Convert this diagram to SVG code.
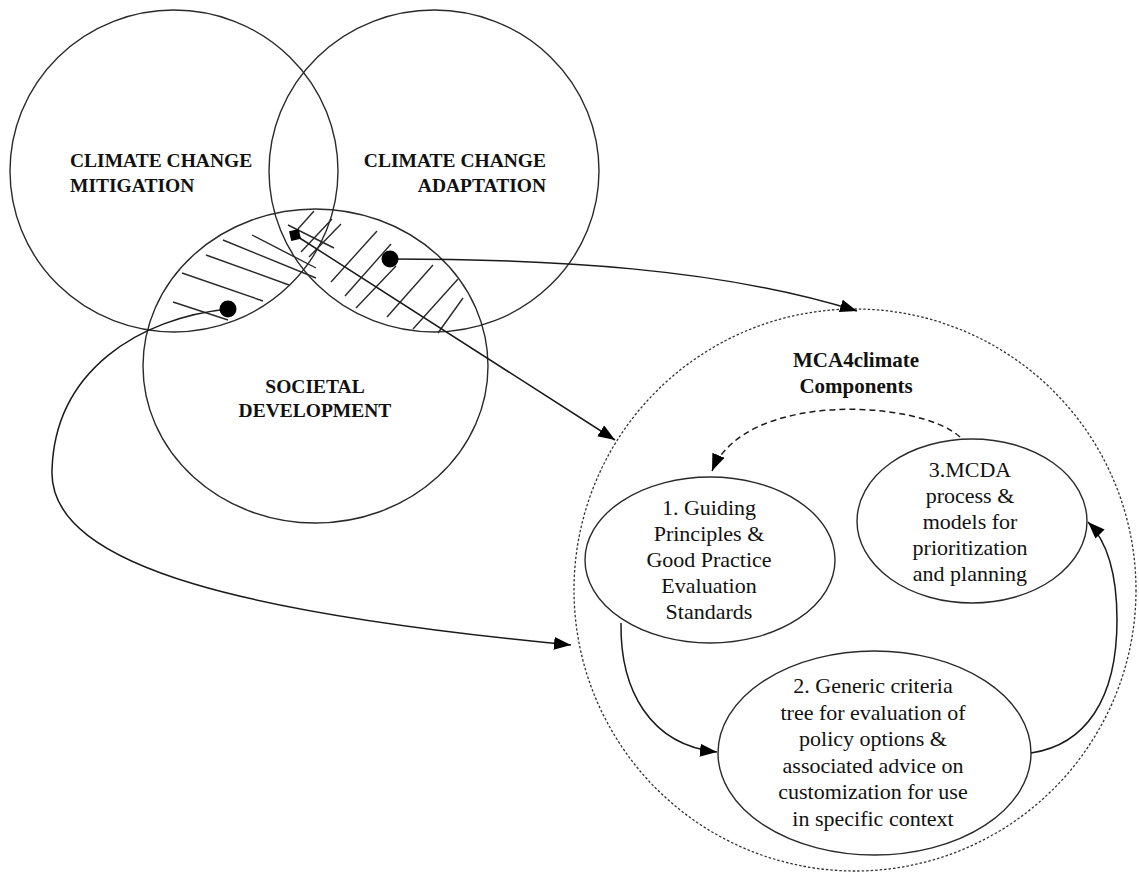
<svg xmlns="http://www.w3.org/2000/svg" width="1139" height="872" viewBox="0 0 1139 872">
<style>
.c{fill:none;stroke:#2a2a2a;stroke-width:1.4}
.h{stroke:#2a2a2a;stroke-width:1.4;fill:none}
.b{font-family:"Liberation Serif","Times New Roman",serif;font-weight:bold;fill:#111}
.t{font-family:"Liberation Serif","Times New Roman",serif;font-size:22px;fill:#111;text-anchor:middle}
.cn{fill:none;stroke:#1a1a1a;stroke-width:1.5}
</style>
<defs>
<marker id="arrow" viewBox="0 0 17 13" refX="17" refY="6.5" markerWidth="17" markerHeight="13" markerUnits="userSpaceOnUse" orient="auto"><path d="M0,0 L17,6.5 L0,13 z" fill="#000"/></marker>
<marker id="diamond" viewBox="-8 -8 16 16" refX="0" refY="0" markerWidth="16" markerHeight="16" markerUnits="userSpaceOnUse" orient="auto"><path d="M-7,0 L0,-7 L7,0 L0,7 z" fill="#000"/></marker>
<marker id="dot" viewBox="-9 -9 18 18" refX="0" refY="0" markerWidth="18" markerHeight="18" markerUnits="userSpaceOnUse"><circle r="8.5" fill="#000"/></marker>
</defs>
<rect width="1139" height="872" fill="#fff"/>

<g id="mitigation">
<ellipse class="c" cx="174" cy="171" rx="164" ry="161"/>
<text class="b" font-size="19.5" x="70" y="167">CLIMATE CHANGE</text>
<text class="b" font-size="19.5" x="70" y="192">MITIGATION</text>
</g>
<g id="adaptation">
<ellipse class="c" cx="434" cy="171" rx="165" ry="161"/>
<text class="b" font-size="19.5" x="546" y="167" text-anchor="end">CLIMATE CHANGE</text>
<text class="b" font-size="19.5" x="546" y="192" text-anchor="end">ADAPTATION</text>
</g>
<g id="societal">
<ellipse class="c" cx="315.5" cy="366" rx="172.5" ry="157"/>
<text class="b" font-size="19.5" x="315" y="393" text-anchor="middle">SOCIETAL</text>
<text class="b" font-size="19.5" x="315" y="417" text-anchor="middle">DEVELOPMENT</text>
</g>
<g id="hatching">
<path class="h" d="M252,235 L316,268 M223,240 L316,278 M206,255 L289,285 M182,273 L263,301 M173,302 L228,320 M288,225 L334,248"/>
<path class="h" d="M314,211 L298,229 M332,219 L301,252 M341,224 L309,257 M377,231 L331,282 M391,244 L345,296 M396,266 L356,308 M433,265 L387,317 M458,279 L413,329 M463,298 L438,333"/>
</g>

<g id="mca4climate">
<circle cx="855" cy="590" r="281" fill="none" stroke="#333" stroke-width="1.3" stroke-dasharray="2.5 2"/>
<text class="b" font-size="21" x="856" y="367" text-anchor="middle">MCA4climate</text>
<text class="b" font-size="21" x="856" y="393" text-anchor="middle">Components</text>
</g>
<g id="guiding">
<ellipse class="c" cx="710" cy="560" rx="125" ry="83"/>
<text class="t" x="709" y="515">1. Guiding</text>
<text class="t" x="709" y="541">Principles &amp;</text>
<text class="t" x="709" y="567">Good Practice</text>
<text class="t" x="709" y="593">Evaluation</text>
<text class="t" x="709" y="619">Standards</text>
</g>
<g id="mcda">
<ellipse class="c" cx="972" cy="521" rx="115" ry="82"/>
<text class="t" x="970" y="477">3.MCDA</text>
<text class="t" x="970" y="503">process &amp;</text>
<text class="t" x="970" y="529">models for</text>
<text class="t" x="970" y="555">prioritization</text>
<text class="t" x="970" y="581">and planning</text>
</g>
<g id="generic">
<ellipse class="c" cx="874.5" cy="753" rx="156.5" ry="102"/>
<text class="t" x="873" y="693">2. Generic criteria</text>
<text class="t" x="873" y="719.5">tree for evaluation  of</text>
<text class="t" x="873" y="746">policy options &amp;</text>
<text class="t" x="873" y="772.5">associated advice  on</text>
<text class="t" x="873" y="799">customization for use</text>
<text class="t" x="873" y="825.5">in specific context</text>
</g>

<g id="connectors">
<path class="cn" d="M295,235 L615,440" marker-start="url(#diamond)" marker-end="url(#arrow)"/>
<path class="cn" d="M390,259 C550,259 720,268 857,311" marker-start="url(#dot)" marker-end="url(#arrow)"/>
<path class="cn" d="M228,309 C140,318 55,370 52,470 C48,570 260,615 571,645" marker-start="url(#dot)" marker-end="url(#arrow)"/>
<path class="cn" d="M960,437 C920,400 745,390 712,471" stroke-dasharray="6 4" marker-end="url(#arrow)"/>
<path class="cn" d="M621,623 C620,690 650,745 717,752" marker-end="url(#arrow)"/>
<path class="cn" d="M1031,753 C1085,745 1117,700 1117,620 C1117,570 1106,540 1088,522" marker-end="url(#arrow)"/>
</g>
</svg>
